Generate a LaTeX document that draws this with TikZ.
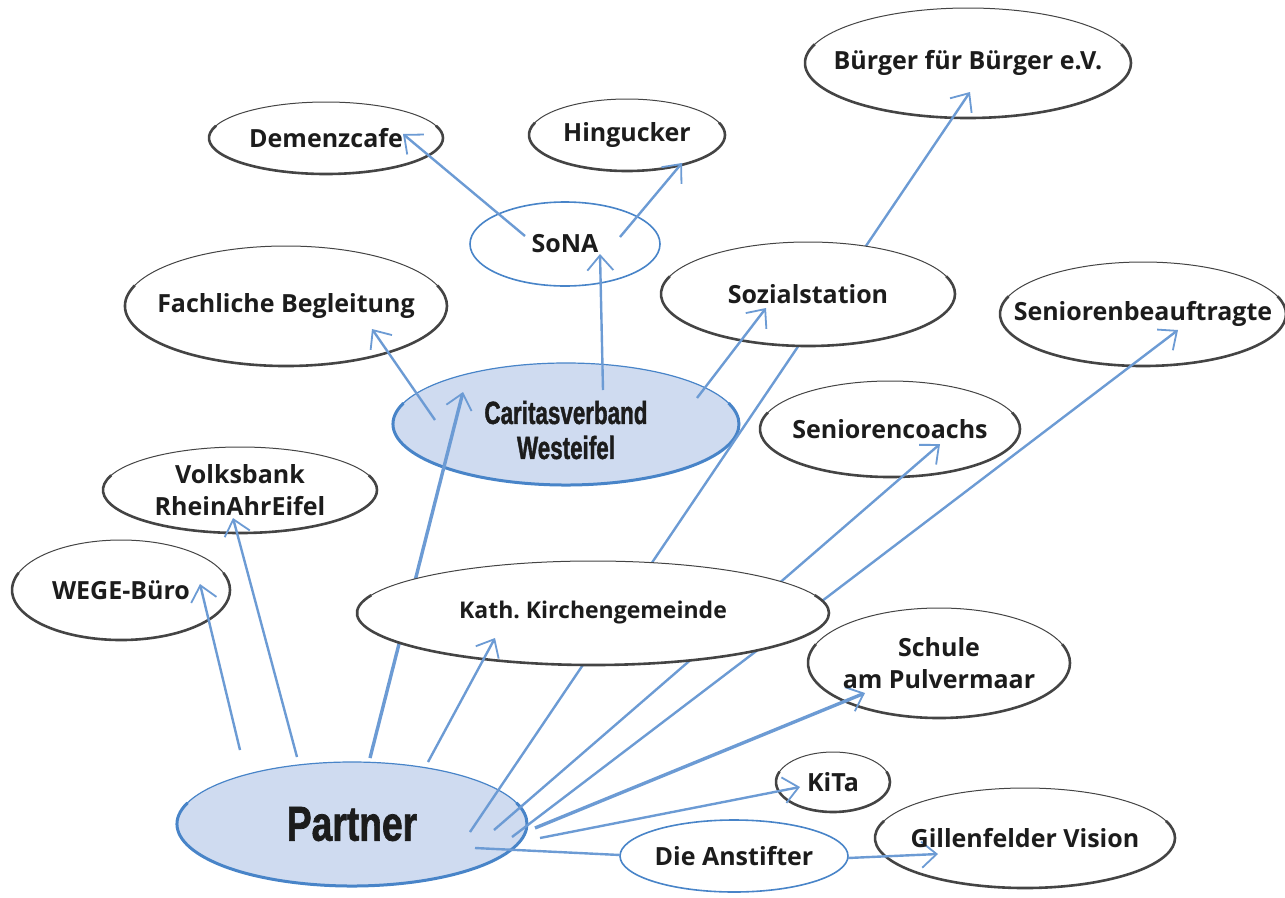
\documentclass[tikz,border=0pt]{standalone}
\usepackage{fontspec}
\setmainfont{Open Sans}
\newfontfamily\hubfont{Liberation Sans}[BoldFeatures={FakeBold=1.6}]
\usetikzlibrary{arrows.meta,backgrounds}
\frenchspacing
\definecolor{linkblue}{RGB}{108,155,212}
\definecolor{rimblue}{RGB}{72,132,200}
\definecolor{fillblue}{RGB}{207,219,240}
\definecolor{rimgray}{RGB}{68,68,68}
\definecolor{inkblack}{RGB}{28,28,28}
\newcommand{\hubtext}[3]{\scalebox{#2}[1]{\hubfont\bfseries\fontsize{#1}{#1}\selectfont #3}}
\tikzset{
  tag/.style={inner sep=0pt, text=inkblack, align=center,
    font=\bfseries\fontsize{25}{32}\selectfont},
  rim/.style={draw=rimgray, line width=1pt},
  heavyrim/.style={draw=rimgray, line width=2.6pt},
  link/.style={draw=linkblue, line width=2.4pt,
    -{Straight Barb[length=15pt,width=26pt,line width=1.8pt]}},
  thicklink/.style={link, line width=3.4pt},
}
\begin{document}
\begin{tikzpicture}[x=1pt,y=-1pt]
\useasboundingbox (0,0) rectangle (1285,897);

% labels
\node[tag] (buerger)   at (968,63)  {Bürger für Bürger e.V.};
\node[tag] (demenz)    at (326,138) {Demenzcafe};
\node[tag] (hingucker) at (627,135) {Hingucker};
\node[tag] (sona)      at (565,244) {SoNA};
\node[tag] (fachlich)  at (286,306) {Fachliche Begleitung};
\node[tag] (sozial)    at (808,294) {Sozialstation};
\node[tag] (senbeauf)  at (1143,314) {Seniorenbeauftragte};
\node[tag] (caritas)   at (566,430) {\hubtext{32}{0.7}{Caritasverband}\\[3pt]\hubtext{32}{0.7}{Westeifel}};
\node[tag] (coachs)    at (890,429) {Seniorencoachs};
\node[tag] (volksbank) at (240,490) {Volksbank\\RheinAhrEifel};
\node[tag] (wege)      at (121,590) {WEGE-Büro};
\node[tag, font=\bfseries\fontsize{23}{30}\selectfont] (kath) at (593,613) {Kath. Kirchengemeinde};
\node[tag] (schule)    at (939,663) {Schule\\am Pulvermaar};
\node[tag] (kita)      at (833,782) {KiTa};
\node[tag] (partner)   at (352,824) {\hubtext{49}{0.76}{Partner}};
\node[tag] (anstifter) at (734,856) {Die Anstifter};
\node[tag] (gillen)    at (1025,838) {Gillenfelder Vision};

\begin{scope}[on background layer]
% outlines
\foreach \n/\rx/\ry in {buerger/163/55, demenz/117/36, hingucker/98/36,
    fachlich/161/60, senbeauf/143/52, coachs/130/48, volksbank/137/43,
    wege/109/50, schule/131/55, kita/57/30, gillen/150/50}{
  \fill[white] (\n.center) ellipse [x radius=\rx, y radius=\ry];
  \draw[rim] (\n.center) ellipse [x radius=\rx, y radius=\ry];
  \draw[heavyrim] (\n.center) ++({\rx*cos(200)},{\ry*sin(200)})
    arc [start angle=200, end angle=-20, x radius=\rx, y radius=\ry];
}
\foreach \n/\rx/\ry in {sona/95/42, anstifter/114/36}
  \draw[draw=rimblue, line width=1.6pt, fill=white] (\n.center) ellipse [x radius=\rx, y radius=\ry];
\foreach \n/\rx/\ry/\dy in {caritas/173/61/6, partner/175/62/0}{
  \draw[draw=rimblue, line width=1.2pt, fill=fillblue] ([yshift=\dy]\n.center) ellipse [x radius=\rx, y radius=\ry];
  \draw[draw=rimblue, line width=3pt] ([yshift=\dy]\n.center) ++({\rx*cos(200)},{\ry*sin(200)})
    arc [start angle=200, end angle=-20, x radius=\rx, y radius=\ry];
}

% links that pass behind other bubbles
\draw[thicklink] ([shift={(18,-66)}]partner.center) -- ([shift={(-103,-38)}]caritas.center);
\draw[link] ([shift={(118,8)}]partner.center) -- ([shift={(2,29)}]buerger.center);
\draw[link] ([shift={(142,6)}]partner.center) -- ([shift={(50,15)}]coachs.center);
\draw[link] ([shift={(160,13)}]partner.center) -- ([shift={(35,16)}]senbeauf.center);

\foreach \n/\rx/\ry in {kath/236/52, sozial/147/52}{
  \fill[white] (\n.center) ellipse [x radius=\rx, y radius=\ry];
  \draw[rim] (\n.center) ellipse [x radius=\rx, y radius=\ry];
  \draw[heavyrim] (\n.center) ++({\rx*cos(200)},{\ry*sin(200)})
    arc [start angle=200, end angle=-20, x radius=\rx, y radius=\ry];
}

% links
\draw[link] ([shift={(-112,-74)}]partner.center) -- ([shift={(79,-6)}]wege.center);
\draw[link] ([shift={(-55,-67)}]partner.center) -- ([shift={(-7,28)}]volksbank.center);
\draw[link] ([shift={(76,-62)}]partner.center) -- ([shift={(-98,25)}]kath.center);
\draw[thicklink] ([shift={(183,4)}]partner.center) -- ([shift={(-74,30)}]schule.center);
\draw[link] ([shift={(188,14)}]partner.center) -- ([shift={(-33,5)}]kita.center);
\draw[draw=linkblue, line width=2.4pt] ([shift={(123,24)}]partner.center) -- ([shift={(-114,-1)}]anstifter.center);
\draw[link] ([shift={(114,2)}]anstifter.center) -- ([shift={(-87,16)}]gillen.center);
\draw[link] ([shift={(-131,-10)}]caritas.center) -- ([shift={(86,23)}]fachlich.center);
\draw[link] ([shift={(37,-40)}]caritas.center) -- ([shift={(35,10)}]sona.center);
\draw[link] ([shift={(131,-32)}]caritas.center) -- ([shift={(-42,14)}]sozial.center);
\draw[link] ([shift={(-40,-8)}]sona.center) -- ([shift={(77,-4)}]demenz.center);
\draw[link] ([shift={(55,-7)}]sona.center) -- ([shift={(55,28)}]hingucker.center);
\end{scope}
\end{tikzpicture}
\end{document}
